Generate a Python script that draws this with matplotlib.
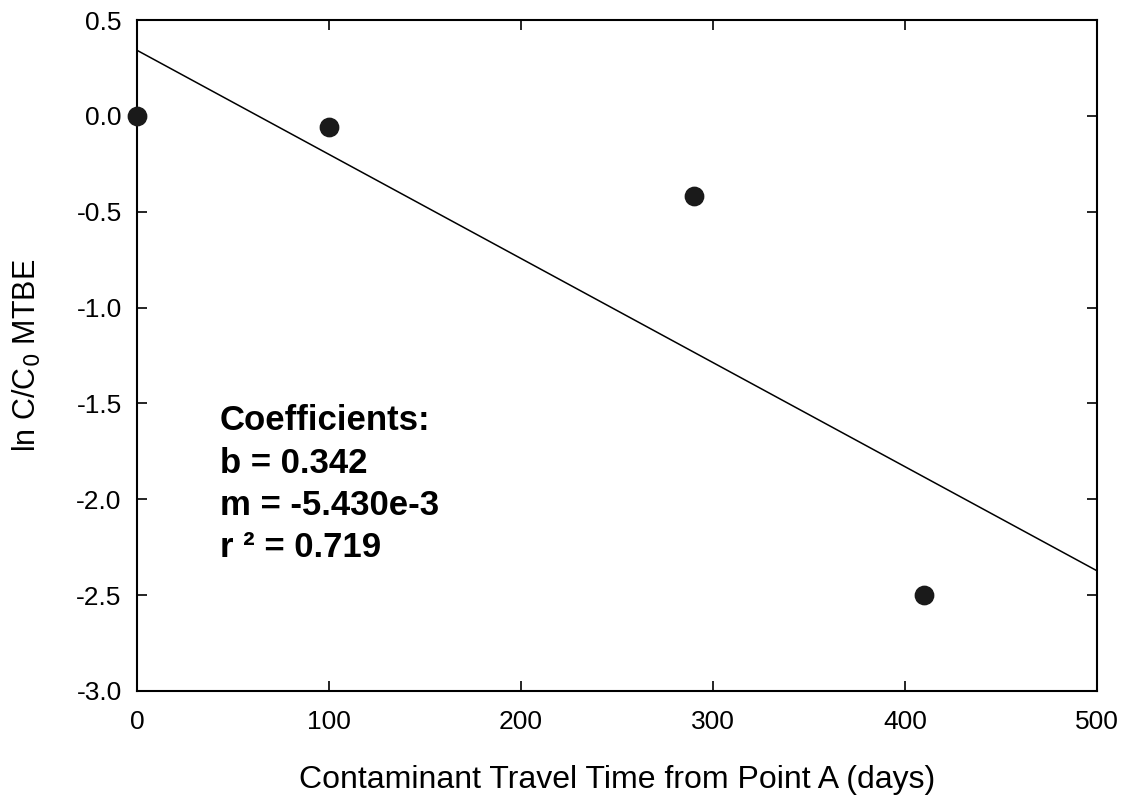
import numpy as np
import matplotlib.pyplot as plt

plt.rcParams['font.family'] = ['Liberation Sans', 'DejaVu Sans']

# data
travel_days = [0, 100, 290, 410]
ln_ratio = [0.0, -0.06, -0.42, -2.50]
b = 0.342
m = -5.430e-3
r2 = 0.719

fig = plt.figure(figsize=(11.25, 7.97), dpi=100)
ax = fig.add_axes([137/1125, 1 - 691/797, 960/1125, 671/797])

x_fit = np.array([0, 500])
ax.plot(x_fit, b + m * x_fit, color='black', lw=1.1, zorder=2)
ax.scatter(travel_days, ln_ratio, s=175, color='#1a1a1a', zorder=3, clip_on=False)

ax.set_xlim(0, 500)
ax.set_ylim(-3.0, 0.5)
ax.set_xticks(np.arange(0, 501, 100))
ax.set_yticks(np.arange(-3.0, 0.51, 0.5))
ax.set_yticklabels(['%.1f' % v for v in np.arange(-3.0, 0.51, 0.5)])
ax.tick_params(direction='in', top=True, right=True, length=7, width=1.2,
               labelsize=19)
ax.tick_params(axis='y', pad=11)
ax.tick_params(axis='x', pad=14)
for s in ax.spines.values():
    s.set_linewidth(1.5)

ax.set_xlabel('Contaminant Travel Time from Point A (days)', fontsize=23, labelpad=22)
ax.set_ylabel('ln C/C$_0$ MTBE', fontsize=22, labelpad=24)

ax.text(43, -2.30, 'Coefficients:\nb = %.3f\nm = %.3fe-3\nr \u00b2 = %.3f' % (b, m * 1000, r2),
        fontsize=25, fontweight='bold', va='baseline', ha='left', linespacing=1.35)

fig.savefig('out.png', dpi=100)
